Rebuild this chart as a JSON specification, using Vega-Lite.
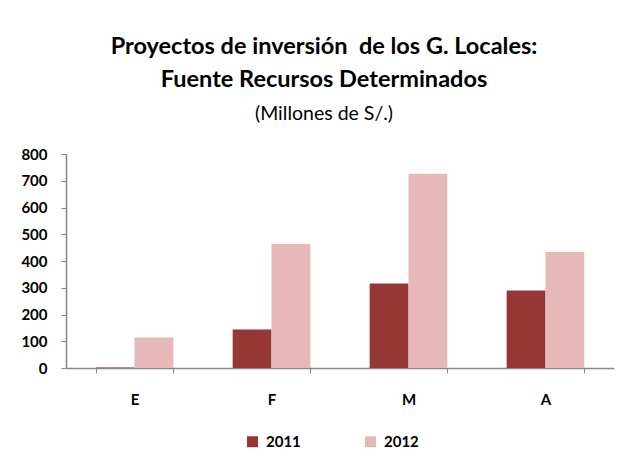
{
  "$schema": "https://vega.github.io/schema/vega-lite/v6.json",
  "width": 548,
  "height": 214,
  "autosize": "none",
  "padding": {"left": 66, "top": 154, "right": 15, "bottom": 105},
  "background": "white",
  "title": {
    "text": ["Proyectos de inversión\u00a0 de los G. Locales:", "Fuente Recursos Determinados"],
    "subtitle": "(Millones de S/.)",
    "font": "Lato",
    "fontSize": 23.5,
    "fontWeight": "bold",
    "lineHeight": 33,
    "subtitleFont": "Lato",
    "subtitleFontSize": 19.5,
    "subtitleColor": "black",
    "subtitlePadding": 13,
    "color": "black",
    "anchor": "middle",
    "dx": -16,
    "offset": 24
  },
  "data": {
    "values": [
      {"mes": "E", "anio": "2011", "valor": 2},
      {"mes": "E", "anio": "2012", "valor": 114},
      {"mes": "F", "anio": "2011", "valor": 144},
      {"mes": "F", "anio": "2012", "valor": 464},
      {"mes": "M", "anio": "2011", "valor": 316},
      {"mes": "M", "anio": "2012", "valor": 726},
      {"mes": "A", "anio": "2011", "valor": 290},
      {"mes": "A", "anio": "2012", "valor": 434}
    ]
  },
  "mark": {"type": "bar"},
  "encoding": {
    "x": {
      "field": "mes",
      "type": "nominal",
      "sort": ["E", "F", "M", "A"],
      "scale": {"paddingInner": 0.433, "paddingOuter": 0.2165},
      "axis": {
        "title": null,
        "labelAngle": 0,
        "labelFont": "Lato",
        "labelFontSize": 15,
        "labelFontWeight": "bold",
        "labelColor": "black",
        "labelPadding": 19,
        "tickBand": "extent",
        "tickSize": 5,
        "tickColor": "#868686",
        "domainColor": "#868686",
        "domainWidth": 1.5
      }
    },
    "xOffset": {"field": "anio", "type": "nominal", "scale": {"paddingInner": 0, "paddingOuter": 0}},
    "y": {
      "field": "valor",
      "type": "quantitative",
      "scale": {"domain": [0, 800], "nice": false},
      "axis": {
        "title": null,
        "values": [0, 100, 200, 300, 400, 500, 600, 700, 800],
        "grid": false,
        "labelFont": "Lato",
        "labelFontSize": 15,
        "labelFontWeight": "bold",
        "labelColor": "black",
        "labelPadding": 14,
        "tickSize": 5,
        "tickColor": "#868686",
        "domainColor": "#868686",
        "domainWidth": 1.5
      }
    },
    "color": {
      "field": "anio",
      "type": "nominal",
      "scale": {"domain": ["2011", "2012"], "range": ["#953735", "#E6B9B8"]},
      "legend": {
        "title": null,
        "orient": "none",
        "direction": "horizontal",
        "legendX": 179,
        "legendY": 280,
        "symbolType": "square",
        "symbolSize": 121,
        "symbolStrokeWidth": 0,
        "labelFont": "Lato",
        "labelFontSize": 15,
        "labelFontWeight": "bold",
        "labelColor": "black",
        "labelOffset": 6,
        "columnPadding": 62
      }
    }
  },
  "config": {
    "view": {"stroke": null}
  }
}
